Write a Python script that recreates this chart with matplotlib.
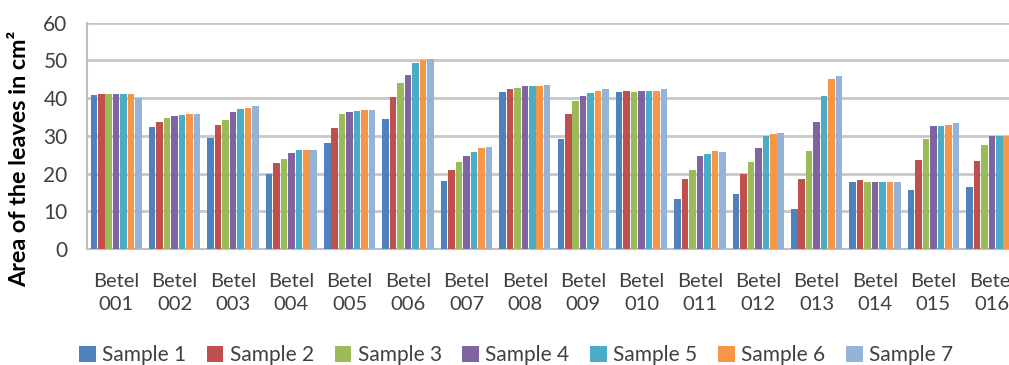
import matplotlib
matplotlib.use("Agg")
import matplotlib.pyplot as plt
import numpy as np

plt.rcParams['font.family'] = ['Lato', 'DejaVu Sans']

categories = ["Betel\n001", "Betel\n002", "Betel\n003", "Betel\n004", "Betel\n005", "Betel\n006",
              "Betel\n007", "Betel\n008", "Betel\n009", "Betel\n010", "Betel\n011", "Betel\n012",
              "Betel\n013", "Betel\n014", "Betel\n015", "Betel\n016"]

sample1 = [40.8, 32.4, 29.5, 20.0, 28.0, 34.5, 18.0, 41.5, 29.2, 41.5, 13.3, 14.6, 10.7, 17.8, 15.7, 16.4]
sample2 = [41.2, 33.6, 33.0, 22.8, 32.2, 40.2, 21.0, 42.4, 35.9, 41.9, 18.6, 20.0, 18.6, 18.2, 23.6, 23.4]
sample3 = [41.1, 34.8, 34.2, 23.9, 35.9, 44.1, 23.1, 42.8, 39.3, 41.7, 20.9, 23.1, 25.9, 17.8, 29.2, 27.5]
sample4 = [41.1, 35.3, 36.3, 25.4, 36.2, 46.2, 24.6, 43.2, 40.5, 42.0, 24.6, 26.9, 33.6, 17.8, 32.7, 29.9]
sample5 = [41.1, 35.6, 37.1, 26.3, 36.5, 49.4, 25.7, 43.2, 41.4, 42.0, 25.2, 29.9, 40.5, 17.8, 32.7, 29.9]
sample6 = [41.1, 35.9, 37.4, 26.3, 36.8, 50.1, 26.9, 43.2, 41.9, 42.0, 26.0, 30.5, 45.2, 17.8, 33.0, 30.0]
sample7 = [40.0, 35.9, 37.9, 26.3, 36.8, 50.4, 27.1, 43.4, 42.3, 42.3, 25.6, 30.8, 45.8, 17.8, 33.5, 30.0]

series_names = ["Sample 1", "Sample 2", "Sample 3", "Sample 4", "Sample 5", "Sample 6", "Sample 7"]
colors = ["#4F81BD", "#C0504D", "#9BBB59", "#8064A2", "#4BACC6", "#F79646", "#95B3D7"]
yticks = [0, 10, 20, 30, 40, 50, 60]

series = [sample1, sample2, sample3, sample4, sample5, sample6, sample7]

fig = plt.figure(figsize=(10.09, 3.65), dpi=100)
ax = fig.add_axes([87/1009, 1 - 249/365, (1021 - 87)/1009, (249 - 22.7)/365])

x = np.arange(len(categories))
pitch = 0.128
width = 0.112
for i, (vals, name, c) in enumerate(zip(series, series_names, colors)):
    ax.bar(x + (i - 3) * pitch, vals, width=width, color=c, label=name, zorder=3)

ax.set_xlim(-0.5, len(categories) - 0.5)
ax.set_ylim(0, 60)
ax.set_yticks(yticks)
ax.set_xticks(x)
ax.set_xticklabels(categories, fontsize=14.5, color="#404040", linespacing=1.45)
ax.tick_params(axis='y', labelsize=15, labelcolor="#404040", length=0, pad=14)
ax.tick_params(axis='x', length=0, pad=17)
ax.grid(axis='y', color="#C8C8C8", linewidth=2, zorder=0)
ax.set_axisbelow(True)
for s in ["top", "right"]:
    ax.spines[s].set_visible(False)
for s in ["left", "bottom"]:
    ax.spines[s].set_color("#BFBFBF")
    ax.spines[s].set_linewidth(1.5)

fig.text(20/1009, 1 - 158.5/365, "Area of the leaves in cm²", rotation=90, ha="center", va="center",
         fontsize=16.8, fontweight="bold", color="#000000")

handles, labels = ax.get_legend_handles_labels()
fig.legend(handles, labels, loc="center", bbox_to_anchor=(516/1009, 1 - 355/365), ncol=7,
           frameon=False, fontsize=15, handlelength=0.8, handleheight=0.8, handletextpad=0.3,
           columnspacing=1.0, labelcolor="#404040")

fig.savefig("out.png", dpi=100)
